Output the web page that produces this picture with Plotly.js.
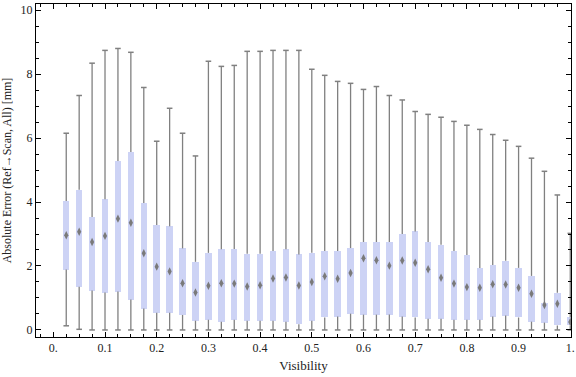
<!DOCTYPE html>
<html>
<head>
<meta charset="utf-8">
<script src="https://cdn.plot.ly/plotly-3.0.1.min.js"></script>
<style>html,body{margin:0;padding:0;background:#fff;}#chart{width:576px;height:377px;}</style>
</head>
<body>
<div id="chart"></div>
<script>
const visibility = [0.025,0.05,0.075,0.1,0.125,0.15,0.175,0.2,0.225,0.25,0.275,0.3,0.325,0.35,0.375,0.4,0.425,0.45,0.475,0.5,0.525,0.55,0.575,0.6,0.625,0.65,0.675,0.7,0.725,0.75,0.775,0.8,0.825,0.85,0.875,0.9,0.925,0.95,0.975,1.0];
const whiskerMax = [6.15,7.33,8.34,8.74,8.80,8.68,7.58,5.90,6.93,6.15,5.44,8.40,8.24,8.27,8.71,8.71,8.74,8.74,8.74,8.15,7.96,7.77,7.71,7.52,7.61,7.33,7.19,6.83,6.74,6.65,6.52,6.40,6.27,6.11,5.93,5.74,5.37,4.96,4.22,3.02];
const quartile3 = [4.03,4.38,3.53,4.09,5.28,5.56,3.97,3.28,3.24,2.55,2.13,2.41,2.52,2.53,2.38,2.38,2.47,2.52,2.36,2.41,2.47,2.47,2.56,2.75,2.75,2.75,3.00,3.08,2.75,2.66,2.47,2.34,1.94,2.03,2.16,1.94,1.69,0.84,1.16,0.39];
const medians = [2.96,3.07,2.75,2.94,3.48,3.35,2.40,1.98,1.83,1.46,1.17,1.38,1.46,1.45,1.36,1.40,1.61,1.64,1.39,1.50,1.68,1.60,1.78,2.24,2.18,2.01,2.17,2.10,1.90,1.63,1.45,1.34,1.32,1.43,1.42,1.32,1.13,0.78,0.82,0.25];
const quartile1 = [1.89,1.35,1.23,1.17,1.20,0.95,0.67,0.54,0.54,0.47,0.29,0.32,0.26,0.32,0.29,0.29,0.29,0.26,0.18,0.29,0.39,0.42,0.51,0.48,0.48,0.48,0.42,0.39,0.35,0.35,0.32,0.32,0.32,0.42,0.45,0.39,0.26,0.23,0.14,0.14];
const whiskerMin = [0.13,0.02,0,0,0,0,0,0,0,0,0,0,0,0,0,0,0,0,0,0,0,0,0,0,0,0,0,0,0,0,0,0,0,0,0,0,0,0,0,0];
const xTickVals = [0,0.1,0.2,0.3,0.4,0.5,0.6,0.7,0.8,0.9,1.0];
const xTickText = ["0.","0.1","0.2","0.3","0.4","0.5","0.6","0.7","0.8","0.9","1."];
const yTickVals = [0,2,4,6,8,10];

const whiskerColor = '#808080';
const boxColor = '#cdd3f5';

// whisker segments (outside the box)
const segX = [], segY = [];
const capX = [], capY = [];
visibility.forEach((v,i)=>{
  segX.push(v,v,null,v,v,null);
  segY.push(whiskerMin[i],quartile1[i],null,quartile3[i],whiskerMax[i],null);
  capX.push(v,v);
  capY.push(whiskerMin[i],whiskerMax[i]);
});

const traces = [
  {type:'bar', x:visibility, base:quartile1, y:quartile3.map((q,i)=>q-quartile1[i]),
   width:0.0125, marker:{color:boxColor, line:{width:0}}, hoverinfo:'skip', showlegend:false},
  {type:'scatter', mode:'lines', x:segX, y:segY, line:{color:whiskerColor, width:1.3},
   hoverinfo:'skip', showlegend:false, connectgaps:false},
  {type:'scatter', mode:'markers', x:capX, y:capY,
   marker:{symbol:'line-ew-open', size:4, color:whiskerColor, line:{color:whiskerColor, width:1.5}},
   hoverinfo:'skip', showlegend:false},
  {type:'scatter', mode:'markers', x:visibility, y:medians,
   marker:{symbol:'diamond-tall', size:6, color:'#7a7a7a', line:{width:0}},
   hoverinfo:'skip', showlegend:false}
];

const fontFam = '"Liberation Serif", "DejaVu Serif", serif';
const layout = {
  width:576, height:377,
  margin:{l:36, r:5, t:4, b:40},
  paper_bgcolor:'#fff', plot_bgcolor:'#fff',
  font:{family:fontFam, size:12, color:'#222'},
  showlegend:false,
  bargap:0,
  xaxis:{
    range:[-0.0335,1.0014], tickmode:'array', tickvals:xTickVals, ticktext:xTickText,
    ticks:'inside', ticklen:5, tickwidth:1, tickcolor:'#000',
    showline:true, linecolor:'#000', linewidth:1, mirror:'ticks',
    showgrid:false, zeroline:false,
    minor:{dtick:0.025, tick0:0, ticks:'inside', ticklen:3, tickcolor:'#000', showgrid:false},
    tickfont:{family:fontFam, size:12, color:'#222'},
    title:{text:'Visibility', font:{family:fontFam, size:13, color:'#222'}, standoff:6}
  },
  yaxis:{
    range:[-0.22,10.19], tickmode:'array', tickvals:yTickVals,
    ticks:'inside', ticklen:5, tickwidth:1, tickcolor:'#000',
    showline:true, linecolor:'#000', linewidth:1, mirror:'ticks',
    showgrid:false, zeroline:false,
    minor:{dtick:0.5, tick0:0, ticks:'inside', ticklen:3, tickcolor:'#000', showgrid:false},
    tickfont:{family:fontFam, size:12, color:'#222'},
    title:{text:'Absolute Error (Ref\u2192Scan, All) [mm]', font:{family:fontFam, size:12, color:'#222'}, standoff:6}
  }
};

Plotly.newPlot('chart', traces, layout, {displayModeBar:false, staticPlot:true});
</script>
</body>
</html>
